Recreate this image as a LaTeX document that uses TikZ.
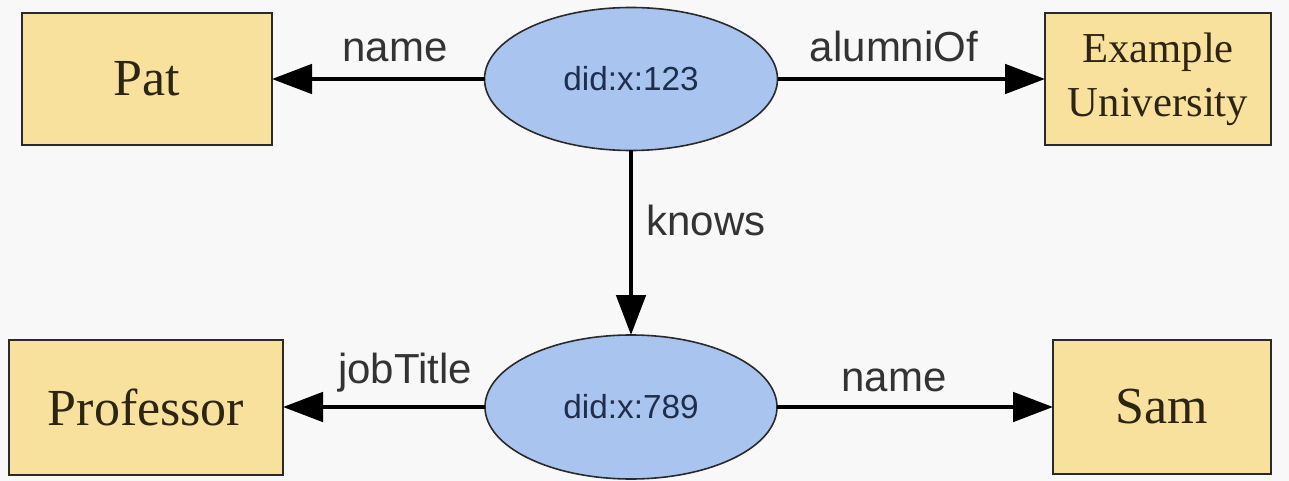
\documentclass[tikz,border=0pt]{standalone}
\usepackage{fontspec}
\setmainfont{Liberation Serif}
\setsansfont{Liberation Sans}
\usetikzlibrary{arrows.meta,shapes.geometric}
\definecolor{bgc}{HTML}{F8F8F8}
\definecolor{boxfill}{HTML}{F8E09D}
\definecolor{boxtext}{HTML}{2E2412}
\definecolor{ellfill}{HTML}{A9C4EF}
\definecolor{elltext}{HTML}{1F2E4C}
\definecolor{edgec}{HTML}{2A2A2A}
\begin{document}
\begin{tikzpicture}[x=0.75pt,y=-0.75pt,
  valbox/.style={rectangle,draw=edgec,line width=1.5pt,fill=boxfill,text=boxtext,
     inner sep=0pt,outer sep=0pt,align=center,
     font=\fontsize{39}{48}\selectfont},
  subj/.style={ellipse,draw=edgec,line width=1.2pt,fill=ellfill,text=elltext,
     inner sep=0pt,outer sep=0pt,font=\sffamily\fontsize{25}{30}\selectfont},
  rel/.style={line width=3pt,-{Triangle[length=30pt,width=22pt]}},
  lbl/.style={anchor=base,text=black!80,font=\sffamily\fontsize{31.5}{36}\selectfont,inner sep=0pt}]
\fill[bgc] (0,0) rectangle (1289,481);
\useasboundingbox (0,0) rectangle (1289,481);

\node[valbox,minimum width=187.5pt,minimum height=99pt] (pat) at (147,79) {Pat};
\node[valbox,minimum width=169.5pt,minimum height=99pt,
      font=\fontsize{32}{40.5}\selectfont] (uni) at (1158,79) {Example\\University};
\node[valbox,minimum width=205.5pt,minimum height=101.25pt] (prof) at (146,407) {Professor};
\node[valbox,minimum width=163.5pt,minimum height=100.5pt] (sam) at (1162,407) {Sam};

\node[subj,minimum width=219.75pt,minimum height=107.25pt] (s1) at (631,79) {did:x:123};
\node[subj,minimum width=219pt,minimum height=108pt] (s2) at (631,407) {did:x:789};

\draw[rel] (s1) -- (pat);
\draw[rel] (s1) -- (uni);
\draw[rel] (s1) -- (s2);
\draw[rel] (s2) -- (prof);
\draw[rel] (s2) -- (sam);

\node[lbl] (l1) at (395,62) {name};
\node[lbl] (l2) at (894,62) {alumniOf};
\node[lbl] (l3) at (706,235) {knows};
\node[lbl] (l4) at (405,383) {jobTitle};
\node[lbl] (l5) at (894,391) {name};
\end{tikzpicture}
\end{document}
